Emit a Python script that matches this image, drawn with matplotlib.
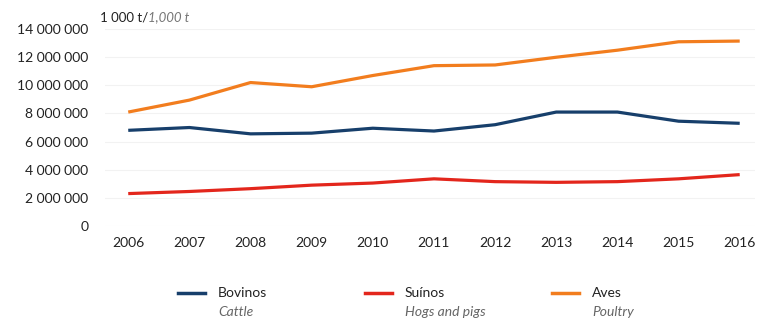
import matplotlib.pyplot as plt
from matplotlib.lines import Line2D
from matplotlib.ticker import FuncFormatter

plt.rcParams['font.family'] = ['Lato', 'DejaVu Sans']

years = [2006, 2007, 2008, 2009, 2010, 2011, 2012, 2013, 2014, 2015, 2016]
bovinos = [6.80e6, 7.00e6, 6.55e6, 6.60e6, 6.95e6, 6.75e6, 7.20e6, 8.10e6, 8.10e6, 7.45e6, 7.30e6]
suinos = [2.30e6, 2.45e6, 2.65e6, 2.90e6, 3.05e6, 3.35e6, 3.15e6, 3.10e6, 3.15e6, 3.35e6, 3.65e6]
aves = [8.10e6, 8.95e6, 10.20e6, 9.90e6, 10.70e6, 11.40e6, 11.45e6, 12.00e6, 12.50e6, 13.10e6, 13.15e6]

names = ['Bovinos', 'Suínos', 'Aves']
names_en = ['Cattle', 'Hogs and pigs', 'Poultry']
colors = ['#173f6b', '#e3261c', '#f27d1e']
series = [bovinos, suinos, aves]

fig = plt.figure(figsize=(7.57, 3.2), dpi=100)
ax = fig.add_axes([105 / 757, 0.294, 650 / 757, 0.615])

for vals, c in zip(series, colors):
    ax.plot(years, vals, color=c, lw=2.3, solid_capstyle='butt')

ax.set_xlim(2005.62, 2016.25)
ax.set_ylim(0, 14e6)
ax.set_xticks(years)
ax.set_yticks(range(0, 14000001, 2000000))
ax.yaxis.set_major_formatter(FuncFormatter(lambda v, p: f'{int(v):,}'.replace(',', ' ')))
ax.tick_params(length=0, labelsize=10, colors='#222222')
ax.tick_params(axis='y', pad=12)
ax.tick_params(axis='x', pad=8)
ax.grid(axis='y', color='#f2f2f2', lw=0.8)
ax.set_axisbelow(True)
for s in ax.spines.values():
    s.set_visible(False)

# unit label
t = fig.text(100 / 757, 1 - 17 / 320, '1 000 t/', fontsize=9.5, color='#222222', va='center')
fig.canvas.draw()
bb = t.get_window_extent()
fig.text(bb.x1 / fig.bbox.width, 1 - 17 / 320, '1,000 t', fontsize=9.5, color='#777777',
         style='italic', va='center')

# legend
xs = [178, 365, 552]
for x, c, n, e in zip(xs, colors, names, names_en):
    fig.add_artist(Line2D([x / 757, (x + 27) / 757], [1 - 293 / 320] * 2, color=c, lw=2.5))
    fig.text((x + 40) / 757, 1 - 293 / 320, n, fontsize=10, color='#222222', va='center')
    fig.text((x + 40) / 757, 1 - 312 / 320, e, fontsize=10, color='#666666', va='center',
             style='italic')

fig.savefig('out.png', dpi=100)
